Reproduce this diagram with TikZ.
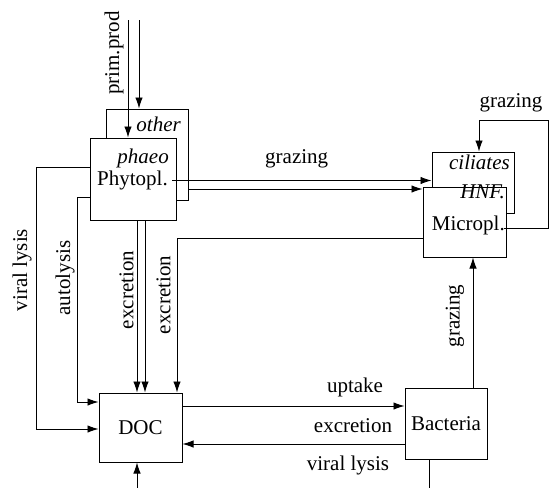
\documentclass[tikz,border=0pt]{standalone}
\usepackage{fontspec}
\setmainfont{Liberation Serif}
\usetikzlibrary{arrows.meta}
\begin{document}
\begin{tikzpicture}[x=1pt,y=-1pt,
  every node/.style={font=\fontsize{21}{24}\selectfont},
  boxx/.style={draw,line width=1pt,fill=white,inner sep=0pt},
  lbl/.style={inner sep=0pt},
  conn/.style={line width=0.9pt},
  arr/.style={conn,-{Latex[length=11pt,width=7.5pt]}}]
\useasboundingbox (0,0) rectangle (550,488);
% boxes
\node[boxx,minimum width=82pt,minimum height=91pt] (other) at (147,154.5) {};
\node[boxx,minimum width=86pt,minimum height=82pt] (phyto) at (133,179) {};
\node[boxx,minimum width=82pt,minimum height=61pt] (cil) at (473,182.5) {};
\node[boxx,minimum width=83pt,minimum height=70pt] (micro) at (464.5,222) {};
\node[boxx,minimum width=83pt,minimum height=69pt] (doc) at (140.5,427.5) {DOC};
\node[boxx,minimum width=82pt,minimum height=71pt] (bact) at (446,423.5) {Bacteria};
% texts in boxes
\node[lbl,anchor=base east] (otherT) at (181,131) {\itshape other};
\node[lbl,anchor=base east] (phaeoT) at (169,163) {\itshape phaeo};
\node[lbl,anchor=base east] (phytoT) at (168,185) {Phytopl.};
\node[lbl,anchor=base east] (cilT) at (510,169) {\itshape ciliates};
\node[lbl,anchor=base east] (hnfT) at (505,198) {\itshape HNF.};
\node[lbl,anchor=base east] (microT) at (505,230) {Micropl.};
% free ends
\coordinate (ppS) at (128,20);
\coordinate (opS) at (139,20);
\coordinate (docB) at (137,488);
% connectors
\draw[arr] (ppS) -- ([xshift=-5pt]phyto.north);
\draw[arr] (opS) -- ([xshift=-8pt]other.north);
\draw[arr] ([yshift=12pt]phyto.west) -- ++(-53,0) |- ([yshift=-1.5pt]doc.west);
\draw[arr] ([yshift=-18pt]phyto.west) -- ++(-12,0) |- ([yshift=25.5pt]doc.west);
\draw[arr] ([xshift=4pt]phyto.south) -- ([xshift=-3.5pt]doc.north);
\draw[arr] ([xshift=12pt]phyto.south) -- ([xshift=4.5pt]doc.north);
\draw[arr] ([yshift=-16pt]micro.west) -| ([xshift=36.5pt]doc.north);
\draw[arr] ([xshift=39pt,yshift=-1.5pt]phyto.center) coordinate (g1) -- (g1 -| cil.west);
\draw[arr] ([yshift=-34.5pt]other.east) coordinate (g2) -- (g2 -| micro.west);
\draw[arr] ([xshift=39.5pt,yshift=-6pt]micro.center) -- ++(44,0) -- ++(0,-108) -| ([xshift=6pt]cil.north);
\draw[arr] ([yshift=21.5pt]doc.east) coordinate (u1) -- (u1 -| bact.west);
\draw[arr] ([yshift=-20.5pt]bact.west) coordinate (e1) -- (e1 -| doc.east);
\draw[arr] ([xshift=27pt]bact.north) coordinate (b1) -- (b1 |- micro.south);
\draw[conn] ([xshift=-17pt]bact.south) -- ++(0,29);
\draw[arr] (docB) -- ([xshift=-3.5pt]doc.south);
% labels
\node[lbl,rotate=90] (l1) at (114,53) {prim.prod};
\node[lbl,anchor=base west] (l2) at (265,163) {grazing};
\node[lbl,anchor=base] (l3) at (511,107) {grazing};
\node[lbl,rotate=90] (l4) at (22,270) {viral lysis};
\node[lbl,rotate=90] (l5) at (65,278) {autolysis};
\node[lbl,rotate=90] (l6) at (126.5,290) {excretion};
\node[lbl,rotate=90] (l7) at (163.5,295) {excretion};
\node[lbl,rotate=90] (l8) at (455,316) {grazing};
\node[lbl,anchor=base] (l9) at (355,392) {uptake};
\node[lbl,anchor=base] (l10) at (353,432) {excretion};
\node[lbl,anchor=base] (l11) at (348,470) {viral lysis};
\end{tikzpicture}
\end{document}
